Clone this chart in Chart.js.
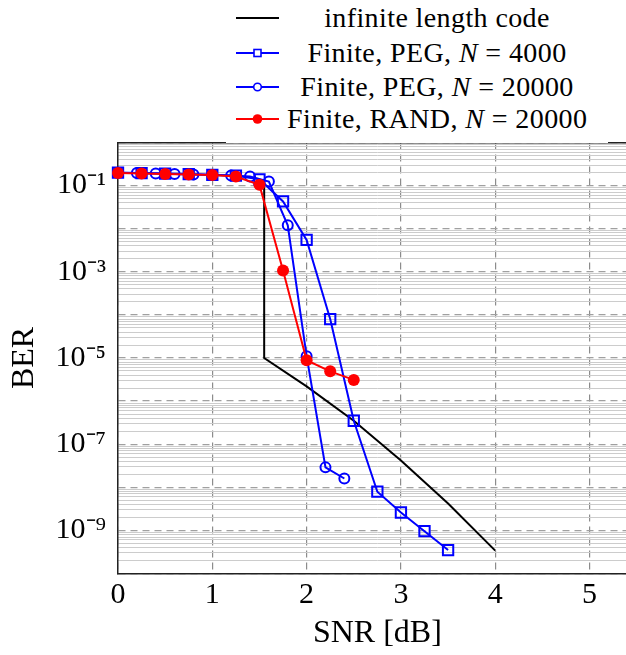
<!DOCTYPE html>
<html>
<head>
<meta charset="utf-8">
<script src="https://cdn.jsdelivr.net/npm/chart.js@4.4.1/dist/chart.umd.min.js"></script>
<style>
  html, body { margin: 0; padding: 0; background: #fff; overflow: hidden; }
  #wrap { position: relative; width: 646px; height: 655px; }
  #legend {
    position: absolute; left: 226px; top: 0; width: 382px; height: 143px;
    background: #fff; font-family: "Liberation Serif", serif; font-size: 28px; color: #000;
    letter-spacing: 0.4px;
  }
  .row { position: absolute; left: 0; width: 382px; height: 34px; display: flex; align-items: center; }
  .row svg { width: 61px; height: 34px; flex: none; }
  .row span { width: 300px; text-align: center; white-space: nowrap; }
</style>
</head>
<body>
<div id="wrap">
  <canvas id="myChart"></canvas>
  <div id="legend">
    <div class="row" style="top:1px">
      <svg viewBox="0 0 61 34"><line x1="10" y1="17" x2="53" y2="17" stroke="#000" stroke-width="2"/></svg>
      <span>infinite length code</span>
    </div>
    <div class="row" style="top:36px">
      <svg viewBox="0 0 61 34"><line x1="10" y1="17" x2="53" y2="17" stroke="#0000ff" stroke-width="2"/>
        <rect x="28" y="13.5" width="7" height="7" fill="#fff" stroke="#0000ff" stroke-width="1.6"/></svg>
      <span>Finite, PEG, <i>N</i> = 4000</span>
    </div>
    <div class="row" style="top:70px">
      <svg viewBox="0 0 61 34"><line x1="10" y1="17" x2="53" y2="17" stroke="#0000ff" stroke-width="2"/>
        <circle cx="31.5" cy="17" r="3.8" fill="#fff" stroke="#0000ff" stroke-width="1.6"/></svg>
      <span>Finite, PEG, <i>N</i> = 20000</span>
    </div>
    <div class="row" style="top:102px">
      <svg viewBox="0 0 61 34"><line x1="10" y1="17" x2="53" y2="17" stroke="#ff0000" stroke-width="2"/>
        <circle cx="31.5" cy="17" r="4.8" fill="#ff0000"/></svg>
      <span>Finite, RAND, <i>N</i> = 20000</span>
    </div>
  </div>
</div>
<script>
// values
var snr_inf = [1.55, 1.55, 2, 2.5, 3, 3.5, 4];
var ber_inf = [1e-1, 1e-5, 2.2e-6, 3.5e-7, 4.2e-8, 4.2e-9, 3.4e-10];

var snr_peg4000 = [0, 0.25, 0.5, 0.75, 1, 1.25, 1.5, 1.75, 2, 2.25, 2.5, 2.75, 3, 3.25, 3.5];
var ber_peg4000 = [0.2, 0.195, 0.19, 0.185, 0.178, 0.17, 0.14, 0.043, 5.5e-3, 8e-5, 3.5e-7, 7.9e-9, 2.6e-9, 9.6e-10, 3.5e-10];

var snr_peg20000 = [0, 0.2, 0.4, 0.6, 0.8, 1, 1.2, 1.4, 1.6, 1.8, 2, 2.2, 2.4];
var ber_peg20000 = [0.2, 0.195, 0.19, 0.185, 0.18, 0.176, 0.171, 0.162, 0.124, 0.012, 1.1e-5, 2.9e-8, 1.6e-8];

var snr_rand = [0, 0.25, 0.5, 0.75, 1, 1.25, 1.5, 1.75, 2, 2.25, 2.5];
var ber_rand = [0.195, 0.19, 0.185, 0.18, 0.177, 0.162, 0.104, 1.07e-3, 8.9e-6, 4.9e-6, 3.1e-6];

var x_ticks = [0, 1, 2, 3, 4, 5];
var y_decades = [-10, -9, -8, -7, -6, -5, -4, -3, -2, -1, 0];
var y_labelled = [-9, -7, -5, -3, -1];

var font = "'Liberation Serif', serif";
var sup = {'-': '\u207B', '0': '\u2070', '1': '\u00B9', '2': '\u00B2', '3': '\u00B3',
           '4': '\u2074', '5': '\u2075', '6': '\u2076', '7': '\u2077', '8': '\u2078', '9': '\u2079'};

function pts(xs, ys) {
  return xs.map(function (x, i) { return {x: x, y: ys[i]}; });
}

var minor_ticks = [];
y_decades.forEach(function (k) {
  if (k === 0) return;
  for (var m = 2; m <= 9; m++) minor_ticks.push({value: m * Math.pow(10, k)});
});

var ctx = document.getElementById("myChart");

const datachart = {
  datasets: [
    {
      label: 'infinite length code',
      data: pts(snr_inf, ber_inf),
      borderColor: '#000',
      borderWidth: 2,
      pointRadius: 0,
      order: 4
    },
    {
      label: 'Finite, PEG, N = 4000',
      data: pts(snr_peg4000, ber_peg4000),
      borderColor: '#0000ff',
      borderWidth: 2,
      pointStyle: 'rect',
      pointRadius: 7.3,
      pointBorderWidth: 2,
      pointBackgroundColor: 'rgba(0,0,0,0)',
      order: 3
    },
    {
      label: 'Finite, PEG, N = 20000',
      data: pts(snr_peg20000, ber_peg20000),
      borderColor: '#0000ff',
      borderWidth: 2,
      pointStyle: 'circle',
      pointRadius: 5,
      pointBorderWidth: 2,
      pointBackgroundColor: 'rgba(0,0,0,0)',
      order: 2
    },
    {
      label: 'Finite, RAND, N = 20000',
      data: pts(snr_rand, ber_rand),
      borderColor: '#ff0000',
      borderWidth: 2,
      pointStyle: 'circle',
      pointRadius: 6,
      pointBorderWidth: 0,
      pointBackgroundColor: '#ff0000',
      order: 1
    }
  ]
}

const config = {
  type: 'line',
  data: datachart,
  options: {
    responsive: true,
    maintainAspectRatio: false,
    animation: false,
    datasets: { line: { tension: 0, clip: false } },
    layout: { padding: { top: 142.5, right: 5, bottom: 0, left: 0 } },
    plugins: { legend: { display: false }, tooltip: { enabled: false } },
    scales: {
      x: {
        type: 'linear', min: 0, max: 5.5,
        afterBuildTicks: function (s) { s.ticks = x_ticks.map(function (v) { return {value: v}; }); },
        afterFit: function (s) { s.height = 81.5; },
        grid: { color: '#8c8c8c', lineWidth: 1.2, drawTicks: false },
        border: { color: '#222', width: 1.5, dash: [7, 5] },
        ticks: { font: { family: font, size: 30 }, color: '#000', padding: 4, autoSkip: false, maxRotation: 0 },
        title: { display: true, text: 'SNR [dB]', font: { family: font, size: 32 }, color: '#000', padding: { top: 0, bottom: 2 } }
      },
      xTop: {
        type: 'linear', position: 'top', min: 0, max: 5.5,
        grid: { display: false, drawTicks: false },
        ticks: { display: false },
        border: { color: '#222', width: 1.5 }
      },
      y: {
        type: 'logarithmic', position: 'left', min: 1e-10, max: 1,
        afterBuildTicks: function (s) { s.ticks = y_decades.map(function (k) { return {value: Math.pow(10, k)}; }); },
        afterFit: function (s) { s.width = 118; },
        grid: { color: '#a0a0a0', lineWidth: 1.2, drawTicks: false },
        border: { color: '#222', width: 1.5, dash: [7, 5] },
        ticks: {
          font: { family: font, size: 30 }, color: '#000', padding: 12, autoSkip: false,
          callback: function (v) {
            var k = Math.round(Math.log10(v));
            if (y_labelled.indexOf(k) < 0) return '';
            return '10' + String(k).split('').map(function (c) { return sup[c]; }).join('');
          }
        },
        title: { display: true, text: 'BER', font: { family: font, size: 32 }, color: '#000', padding: { top: 5, bottom: 0 } }
      },
      yMinor: {
        type: 'logarithmic', position: 'left', min: 1e-10, max: 1,
        afterBuildTicks: function (s) { s.ticks = minor_ticks.slice(); },
        grid: { color: '#cccccc', lineWidth: 1, drawTicks: false },
        border: { display: false },
        ticks: { display: false }
      }
    }
  }
}
const myChart = new Chart(ctx, config);
</script>
</body>
</html>
